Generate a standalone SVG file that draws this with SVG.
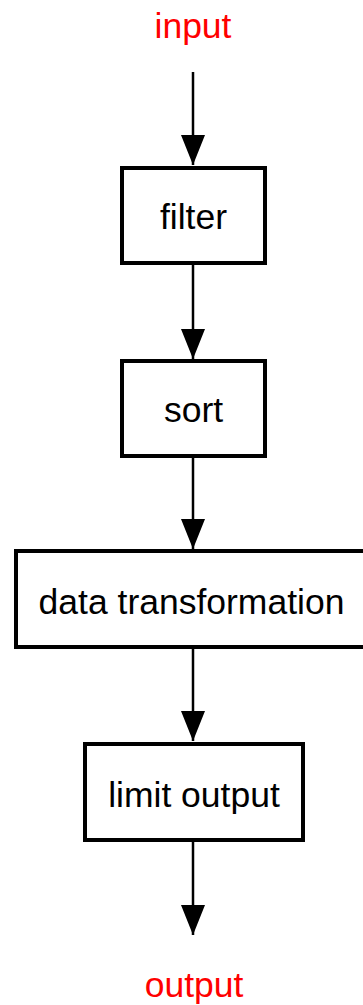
<svg xmlns="http://www.w3.org/2000/svg" width="363" height="1005" viewBox="0 0 363 1005">
  <style>
    .box { fill: #fff; stroke: #000; stroke-width: 4; }
    .lbl { font-family: "Liberation Sans", Arial, sans-serif; font-size: 35.5px; text-anchor: middle; fill: #000; }
    .io { fill: #ff0000; }
    .edge { stroke: #000; stroke-width: 2.5; fill: none; marker-end: url(#arrow); }
  </style>
  <defs>
    <marker id="arrow" markerUnits="userSpaceOnUse" markerWidth="32" markerHeight="26" refX="30" refY="12" orient="auto">
      <path d="M0,0 L30,12 L0,24 z" fill="#000"/>
    </marker>
  </defs>
  <rect width="363" height="1005" fill="#fff"/>

  <g id="connectors">
    <path class="edge" d="M193,72 V165"/>
    <path class="edge" d="M193,265 V359"/>
    <path class="edge" d="M193,457 V549"/>
    <path class="edge" d="M193,648 V741"/>
    <path class="edge" d="M193,842 V935"/>
  </g>

  <g id="input">
    <text class="lbl io" x="193" y="38">input</text>
  </g>
  <g id="filter">
    <rect class="box" x="122" y="168" width="143" height="95"/>
    <text class="lbl" x="193.5" y="229">filter</text>
  </g>
  <g id="sort">
    <rect class="box" x="122" y="361" width="143" height="95"/>
    <text class="lbl" x="193.5" y="422">sort</text>
  </g>
  <g id="data-transformation">
    <rect class="box" x="16" y="551" width="355" height="96"/>
    <text class="lbl" x="191.5" y="614">data transformation</text>
  </g>
  <g id="limit-output">
    <rect class="box" x="85" y="744" width="218" height="96"/>
    <text class="lbl" x="194" y="807">limit output</text>
  </g>
  <g id="output">
    <text class="lbl io" x="194" y="997">output</text>
  </g>
</svg>
